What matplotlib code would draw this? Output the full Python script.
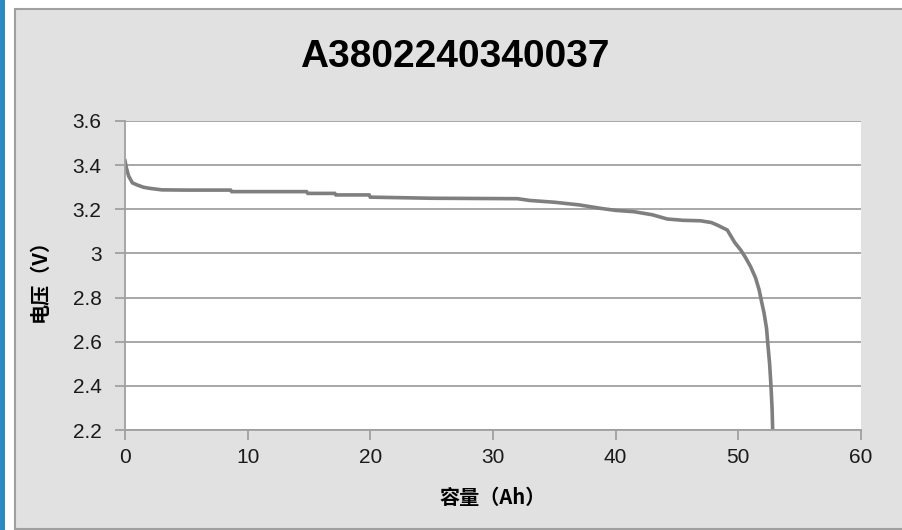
import matplotlib
matplotlib.use("Agg")
import matplotlib.pyplot as plt
from matplotlib.patches import Rectangle

# discharge curve
capacity = [0, 0.1, 0.3, 0.6, 1.0, 1.5, 2.0, 3.0, 5, 8.6, 8.7, 14.8, 14.9, 17.1, 17.2,
            19.9, 20.0, 25, 32, 33, 35, 37, 38.8, 40, 41.5, 43, 44.2, 45.5, 46.9, 47.8,
            48.3, 49.1, 49.7, 50.2, 50.6, 51.0, 51.4, 51.7, 51.9, 52.1, 52.3, 52.4,
            52.55, 52.65, 52.75, 52.8]
voltage = [3.42, 3.39, 3.35, 3.32, 3.31, 3.30, 3.295, 3.288, 3.287, 3.287, 3.28, 3.28,
           3.272, 3.272, 3.265, 3.265, 3.255, 3.25, 3.248, 3.24, 3.232, 3.22, 3.204,
           3.195, 3.189, 3.175, 3.156, 3.15, 3.148, 3.14, 3.128, 3.106, 3.05, 3.015,
           2.98, 2.94, 2.89, 2.834, 2.78, 2.729, 2.66, 2.593, 2.5, 2.41, 2.3, 2.2]
xticks = [0, 10, 20, 30, 40, 50, 60]
yticks = [2.2, 2.4, 2.6, 2.8, 3.0, 3.2, 3.4, 3.6]
ylabels = ['2.2', '2.4', '2.6', '2.8', '3', '3.2', '3.4', '3.6']
title = 'A3802240340037'

W, H = 902, 530
fig = plt.figure(figsize=(W / 100, H / 100), dpi=100)
fig.patch.set_facecolor('white')

# blue strip on the left and the grey chart area
fig.patches.append(Rectangle((0, 0), 5 / W, 1, transform=fig.transFigure,
                             facecolor='#2b8bc0', edgecolor='none', zorder=-2))
fig.patches.append(Rectangle((15 / W, 1 / H), 1.0, (H - 10) / H, transform=fig.transFigure,
                             facecolor='#e1e1e1', edgecolor='#a0a0a0', linewidth=1.5,
                             zorder=-2))

ax = fig.add_axes([125 / W, 1 - 430 / H, (861 - 125) / W, (430 - 121) / H])
ax.set_facecolor('white')
ax.plot(capacity, voltage, color='#7f7f7f', linewidth=2.6, solid_joinstyle='miter')

ax.set_xlim(0, 60)
ax.set_ylim(2.2, 3.6)
ax.set_xticks(xticks)
ax.set_yticks(yticks)
ax.set_yticklabels(ylabels)
ax.yaxis.grid(True, color='#a0a0a0', linewidth=1.3)
ax.set_axisbelow(True)
for s in ['top', 'right', 'bottom']:
    ax.spines[s].set_visible(False)
ax.spines['left'].set_color('#a0a0a0')
ax.spines['left'].set_linewidth(1.3)
ax.axhline(2.2, color='#a0a0a0', linewidth=1.3, clip_on=False)
ax.tick_params(axis='both', direction='out', length=7, width=1.3, color='#a0a0a0',
               labelsize=15, labelcolor='#1a1a1a')
ax.tick_params(axis='y', pad=10)
ax.tick_params(axis='x', pad=6)
for lab in ax.get_xticklabels() + ax.get_yticklabels():
    lab.set_family('Liberation Sans')

cjk = ['Noto Sans CJK SC', 'DejaVu Sans']
ax.set_xlabel('容量（Ah）', family=cjk, fontsize=14.5, fontweight='bold', labelpad=14)
ax.set_ylabel('电压（V）', family=cjk, fontsize=14.5, fontweight='bold', labelpad=16)
fig.text(455 / W, 1 - 57 / H, title, family='Liberation Sans', fontsize=28,
         fontweight='bold', ha='center', va='center')

fig.savefig('out.png', dpi=100)
